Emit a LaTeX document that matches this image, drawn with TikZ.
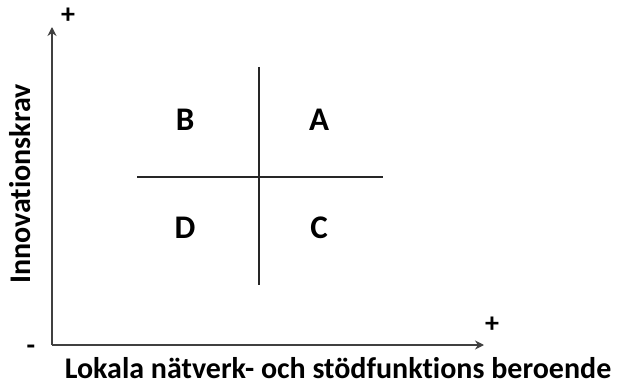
\documentclass[tikz,border=0pt]{standalone}
\usepackage{fontspec}
\setmainfont{Carlito}[Ligatures={NoCommon}]
\usetikzlibrary{arrows.meta}
\begin{document}
\begin{tikzpicture}[x=1pt,y=-1pt,
  axis/.style={draw=black!75,line width=1.5pt,-{Stealth[length=9pt,width=9pt]}},
  quad/.style={draw=black!85,line width=1.2pt},
  letter/.style={font=\bfseries\fontsize{33}{36}\selectfont},
  sign/.style={font=\bfseries\fontsize{28}{30}\selectfont},
  axlabel/.style={font=\bfseries\fontsize{30}{32}\selectfont}]
\useasboundingbox (0,0) rectangle (619,385);
\coordinate (o) at (52,345);
\coordinate (ytip) at (52,27);
\coordinate (xtip) at (484,345);
\draw[axis] (o) -- (ytip);
\draw[axis] (o) -- (xtip);
\coordinate (hl) at (137,177);
\coordinate (hr) at (383,177);
\coordinate (vt) at (259,67);
\coordinate (vb) at (259,285);
\draw[quad] (hl) -- (hr);
\draw[quad] (vt) -- (vb);
\node[letter] (B) at (185,120) {B};
\node[letter] (A) at (319,120) {A};
\node[letter] (D) at (185,228) {D};
\node[letter] (C) at (319,228) {C};
\node[sign] (yplus) at (68,16) {+};
\node[sign] (xplus) at (492,325) {+};
\node[sign] (minus) at (31,350) {-};
\node[axlabel] (xlab) at (338,368) {Lokala nätverk- och stödfunktions beroende};
\node[axlabel,rotate=90] (ylab) at (20,184) {Innovationskrav};
\end{tikzpicture}
\end{document}
